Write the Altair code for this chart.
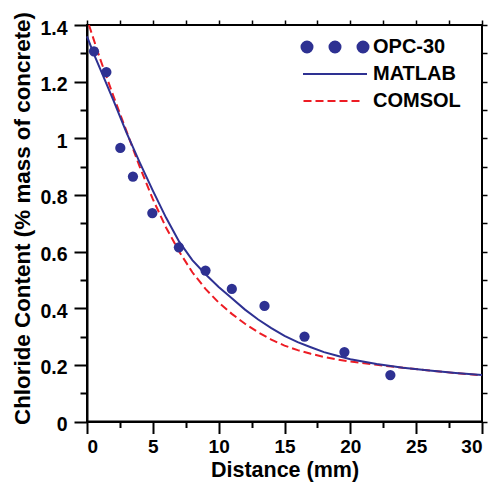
import altair as alt
import pandas as pd

# ---- data ----
dist_pts = [0.53, 1.47, 2.53, 3.49, 4.96, 6.98, 9.0, 11.0, 13.48, 16.52, 19.55, 23.04]
chl_pts = [1.307, 1.234, 0.966, 0.865, 0.736, 0.615, 0.533, 0.468, 0.408, 0.300, 0.245, 0.164]

matlab_x = [0, 0.5, 1, 2, 3, 4, 5, 6, 7, 8, 9, 10, 11, 12, 13, 14, 15, 16, 17, 18, 19, 20, 22, 24, 26, 28, 30]
matlab_y = [1.36, 1.30, 1.245, 1.135, 1.02, 0.915, 0.815, 0.72, 0.635, 0.57, 0.52, 0.475, 0.435, 0.395,
            0.36, 0.33, 0.302, 0.28, 0.262, 0.245, 0.232, 0.22, 0.203, 0.19, 0.18, 0.171, 0.164]

comsol_x = [0.15, 0.5, 1, 2, 3, 4, 5, 6, 7, 8, 9, 10, 11, 12, 13, 14, 15, 16, 17, 18, 19, 20, 22, 24, 26, 28, 30]
comsol_y = [1.40, 1.35, 1.28, 1.15, 1.025, 0.90, 0.785, 0.685, 0.60, 0.527, 0.468, 0.42, 0.38, 0.345,
            0.315, 0.289, 0.268, 0.252, 0.239, 0.228, 0.219, 0.212, 0.20, 0.19, 0.18, 0.171, 0.163]

series_names = ["OPC-30", "MATLAB", "COMSOL"]

x_ticks = [0, 2.5, 5, 7.5, 10, 12.5, 15, 17.5, 20, 22.5, 25, 27.5, 30]
y_ticks = [0, 0.1, 0.2, 0.3, 0.4, 0.5, 0.6, 0.7, 0.8, 0.9, 1.0, 1.1, 1.2, 1.3, 1.4]

NAVY = "#2e3192"
RED = "#ed1c24"
FONT = "Liberation Sans"

pts = pd.DataFrame({"x": dist_pts, "y": chl_pts})
mat = pd.DataFrame({"x": matlab_x, "y": matlab_y})
com = pd.DataFrame({"x": comsol_x, "y": comsol_y})
leg = pd.DataFrame({"series": series_names})

xs = alt.Scale(domain=[0, 30], nice=False, zero=False)
ys = alt.Scale(domain=[0, 1.4], nice=False)

x_major = "datum.value % 5 === 0"
y_major = "round(datum.value * 10) % 2 === 0"

x_axis = alt.Axis(
    values=x_ticks, format="d",
    labelExpr=f"{x_major} ? datum.label : ''",
    tickSize={"condition": {"test": x_major, "value": 12}, "value": 6},
    tickWidth=2, tickColor="black", domainColor="black", domainWidth=2,
    labelFont=FONT, labelFontWeight="bold", labelFontSize=19, labelColor="black",
    labelPadding=4, grid=False,
    title="Distance (mm)", titleFont=FONT, titleFontWeight="bold", titleFontSize=21.5,
    titleColor="black", titleY=38,
)
y_axis = alt.Axis(
    values=y_ticks, format=".1~f",
    labelExpr=f"{y_major} ? datum.label : ''",
    tickSize={"condition": {"test": y_major, "value": 13}, "value": 7},
    tickWidth=2, tickColor="black", domainColor="black", domainWidth=2,
    labelFont=FONT, labelFontWeight="bold", labelFontSize=19.5, labelColor="black",
    labelPadding=7, labelOffset=3, grid=False,
    title="Chloride Content (% mass of concrete)", titleFont=FONT, titleFontWeight="bold",
    titleFontSize=22.4, titleColor="black", titleX=-53, titleY=193,
)
x_top = alt.Axis(orient="top", values=x_ticks, labels=False, domain=False, tickSize=5,
                 tickWidth=1.5, tickColor="black", grid=False, title=None)
y_right = alt.Axis(orient="right", values=y_ticks, labels=False, domain=False, tickSize=5,
                   tickWidth=1.5, tickColor="black", grid=False, title=None)

comsol = alt.Chart(com).mark_line(color=RED, strokeWidth=2, strokeDash=[8, 4]).encode(
    x=alt.X("x:Q", scale=xs, axis=x_axis),
    y=alt.Y("y:Q", scale=ys, axis=y_axis),
)
matlab = alt.Chart(mat).mark_line(color=NAVY, strokeWidth=2).encode(
    x=alt.X("x:Q", scale=xs, axis=x_top),
    y=alt.Y("y:Q", scale=ys, axis=y_right),
)
points = alt.Chart(pts).mark_circle(size=105, color=NAVY, opacity=1).encode(
    x=alt.X("x:Q", scale=xs, axis=None),
    y=alt.Y("y:Q", scale=ys, axis=None),
)

# legend symbols (styles): three dots, solid line, dashed line
def circ(cx, r):
    return f"M{cx - r},0a{r},{r} 0 1,0 {2 * r},0a{r},{r} 0 1,0 {-2 * r},0Z"

dots_path = circ(-5.6, 1.1) + circ(0, 1.1) + circ(5.6, 1.1)
line_path = "M-6.4,0H6.4"
dash_path = "M-6.3,0h1.6M-3.9,0h1.6M-1.5,0h1.6M0.9,0h1.6M3.3,0h1.6"

legend_cfg = alt.Legend(
    title=None, orient="none", legendX=238, legendY=12, padding=0,
    labelFont=FONT, labelFontWeight="bold", labelFontSize=20, labelColor="black",
    symbolSize=100, symbolStrokeWidth=2, labelOffset=28, rowPadding=7,
)
legend_layer = alt.Chart(leg).transform_filter("false").mark_point(filled=True, opacity=1).encode(
    fill=alt.Fill("series:N", scale=alt.Scale(domain=series_names, range=[NAVY, NAVY, RED]), legend=legend_cfg),
    stroke=alt.Stroke("series:N", scale=alt.Scale(domain=series_names, range=[NAVY, NAVY, RED]), legend=legend_cfg),
    shape=alt.Shape("series:N", scale=alt.Scale(domain=series_names, range=[dots_path, line_path, dash_path]), legend=legend_cfg),
)

chart = alt.layer(comsol, matlab, points, legend_layer).resolve_axis(
    x="independent", y="independent"
).properties(
    width=395, height=396.5,
    autosize=alt.AutoSizeParams(type="none"),
    padding={"left": 79, "top": 17, "right": 8, "bottom": 61},
    background="white",
).configure_view(stroke="black", strokeWidth=2)

chart.save("out.html", embed_options={"renderer": "svg", "actions": False})
